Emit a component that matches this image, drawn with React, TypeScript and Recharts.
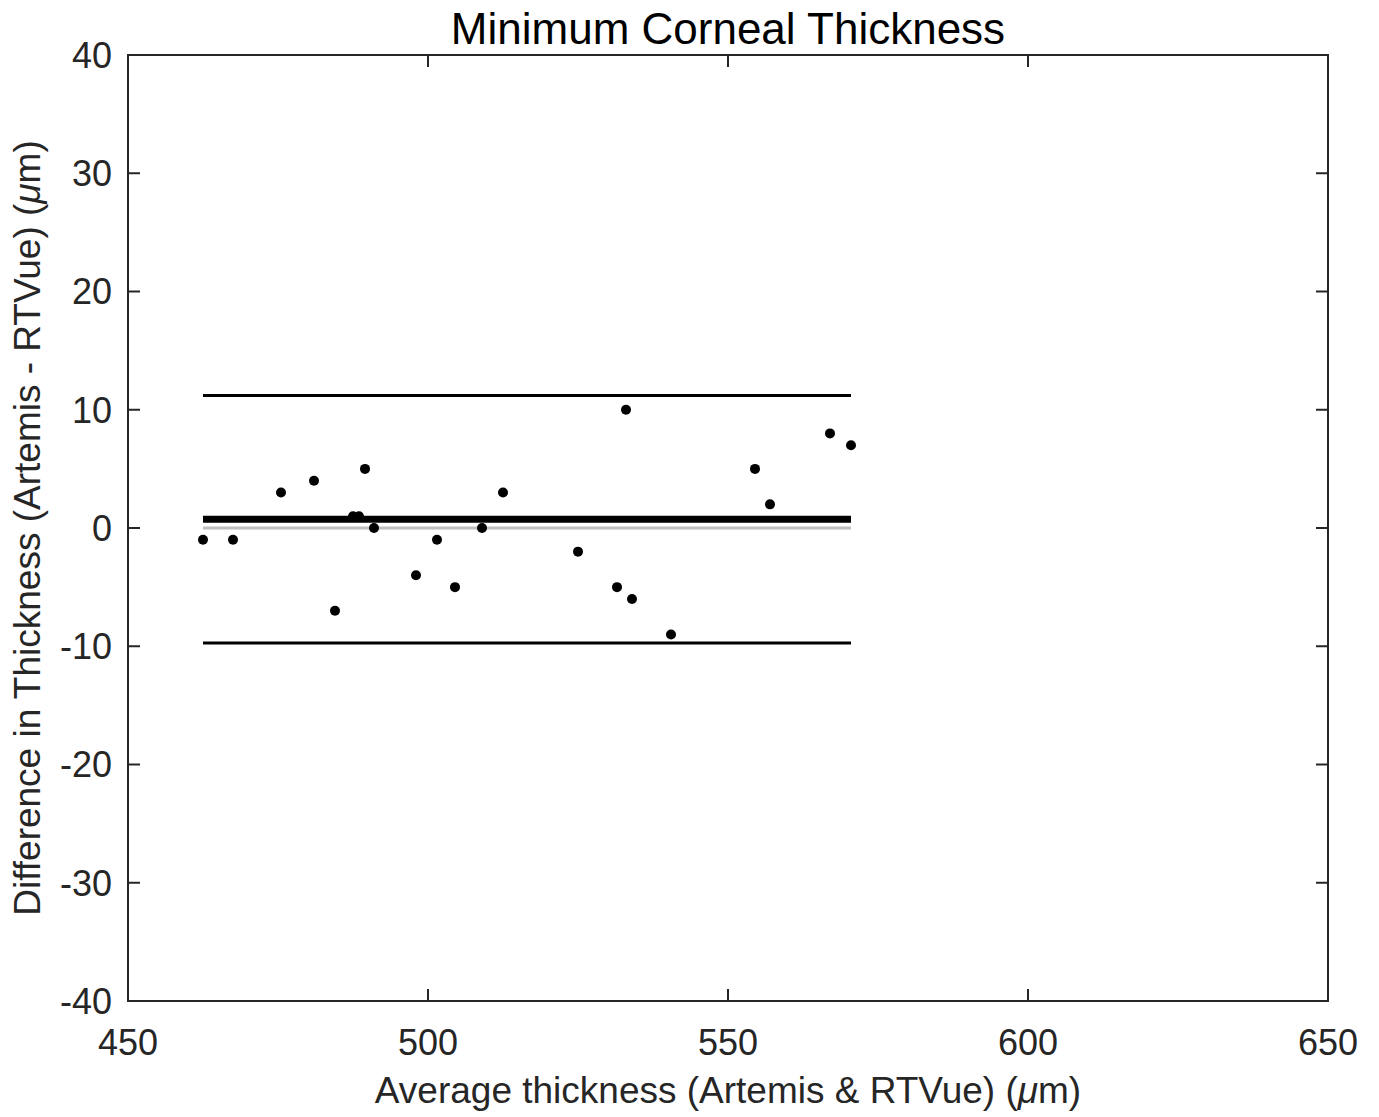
import React from "react"
import { ComposedChart, Scatter, XAxis, YAxis, ReferenceLine, ReferenceArea, Label } from "recharts"

// Bland-Altman points: mean of two devices vs. their difference (µm)
const averageThickness = [
  462.5, 467.5, 475.5, 481, 484.5, 487.5, 488.5, 489.5, 491, 498, 501.5, 504.5,
  509, 512.5, 525, 531.5, 533, 534, 540.5, 554.5, 557, 567, 570.5,
]
const thicknessDiff = [
  -1, -1, 3, 4, -7, 1, 1, 5, 0, -4, -1, -5,
  0, 3, -2, -5, 10, -6, -9, 5, 2, 8, 7,
]

const meanDiff = 0.74
const upperLimit = 11.21
const lowerLimit = -9.73

const xTicks = [450, 500, 550, 600, 650]
const yTicks = [-40, -30, -20, -10, 0, 10, 20, 30, 40]

const points = averageThickness.map((x, i) => ({ x, y: thicknessDiff[i] }))
const xMin = Math.min(...averageThickness)
const xMax = Math.max(...averageThickness)

const FONT = "'Liberation Sans', Arial, sans-serif"
const INK = "#262626"

// plot box edges in px (matches chart margins below)
const LEFT = 128
const RIGHT = 1328
const TOP = 55
const BOTTOM = 1001
const TICK_LEN = 12

// MATLAB-style ticks: label outside, tick marks pointing inward on both sides
function XTick(props: any) {
  const { x, y, payload } = props
  const c = payload.coordinate
  return (
    <g>
      <line x1={c} x2={c} y1={BOTTOM} y2={BOTTOM - TICK_LEN} stroke={INK} strokeWidth={2} />
      <line x1={c} x2={c} y1={TOP} y2={TOP + TICK_LEN} stroke={INK} strokeWidth={2} />
      <text x={x} y={y} dy="0.71em" textAnchor="middle" fontSize={36} fill={INK} fontFamily={FONT}>
        {payload.value}
      </text>
    </g>
  )
}

function YTick(props: any) {
  const { x, y, payload } = props
  const c = payload.coordinate
  return (
    <g>
      <line x1={LEFT} x2={LEFT + TICK_LEN} y1={c} y2={c} stroke={INK} strokeWidth={2} />
      <line x1={RIGHT} x2={RIGHT - TICK_LEN} y1={c} y2={c} stroke={INK} strokeWidth={2} />
      <text x={x} y={y} dy="0.355em" textAnchor="end" fontSize={36} fill={INK} fontFamily={FONT}>
        {payload.value}
      </text>
    </g>
  )
}

export default function App() {
  return (
    <div style={{ position: "absolute", left: 0, top: 0, width: 1379, height: 1117, background: "#fff" }}>
      <div
        style={{
          position: "absolute",
          left: LEFT,
          width: RIGHT - LEFT,
          top: 3,
          textAlign: "center",
          fontFamily: FONT,
          fontSize: 44,
          color: "#000",
          lineHeight: "52px",
        }}
      >
        Minimum Corneal Thickness
      </div>
      <ComposedChart width={1379} height={1117} data={points} margin={{ top: TOP, right: 1379 - RIGHT, left: 0, bottom: 0 }}>
        <XAxis
          dataKey="x"
          type="number"
          domain={[450, 650]}
          ticks={xTicks}
          height={1117 - BOTTOM}
          tickSize={0}
          tickMargin={28}
          tick={<XTick />}
          tickLine={false}
          axisLine={false}
        >
          <Label
            content={({ viewBox }: any) => (
              <text
                x={viewBox.x + viewBox.width / 2}
                y={1103}
                textAnchor="middle"
                fontFamily={FONT}
                fontSize={37}
                fill={INK}
              >
                Average thickness (Artemis &amp; RTVue) (<tspan fontStyle="italic">μ</tspan>m)
              </text>
            )}
          />
        </XAxis>
        <YAxis
          dataKey="y"
          type="number"
          domain={[-40, 40]}
          ticks={yTicks}
          width={LEFT}
          tickSize={0}
          tickMargin={16}
          tick={<YTick />}
          tickLine={false}
          axisLine={false}
        >
          <Label
            content={({ viewBox }: any) => {
              const cy = viewBox.y + viewBox.height / 2
              return (
                <text
                  x={40}
                  y={cy}
                  transform={`rotate(-90 40 ${cy})`}
                  textAnchor="middle"
                  fontFamily={FONT}
                  fontSize={37}
                  fill={INK}
                >
                  Difference in Thickness (Artemis - RTVue) (<tspan fontStyle="italic">μ</tspan>m)
                </text>
              )
            }}
          />
        </YAxis>
        <ReferenceArea x1={450} x2={650} y1={-40} y2={40} fill="none" stroke={INK} strokeWidth={2} />
        <ReferenceLine
          segment={[{ x: xMin, y: 0 }, { x: xMax, y: 0 }]}
          stroke="#bfbfbf"
          strokeWidth={3}
        />
        <ReferenceLine
          segment={[{ x: xMin, y: meanDiff }, { x: xMax, y: meanDiff }]}
          stroke="#000"
          strokeWidth={7}
        />
        <ReferenceLine
          segment={[{ x: xMin, y: upperLimit }, { x: xMax, y: upperLimit }]}
          stroke="#000"
          strokeWidth={3}
        />
        <ReferenceLine
          segment={[{ x: xMin, y: lowerLimit }, { x: xMax, y: lowerLimit }]}
          stroke="#000"
          strokeWidth={3}
        />
        <Scatter
          dataKey="y"
          isAnimationActive={false}
          shape={(p: any) => <circle cx={p.cx} cy={p.cy} r={5} fill="#000" />}
        />
      </ComposedChart>
    </div>
  )
}
